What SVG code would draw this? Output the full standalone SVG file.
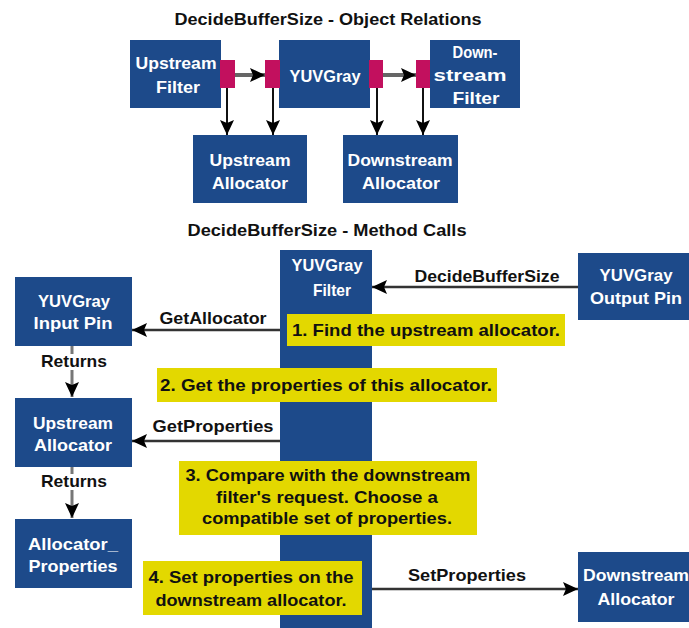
<svg xmlns="http://www.w3.org/2000/svg" width="689" height="628" viewBox="0 0 689 628">
<defs>
<style>
.box{fill:#1d4a8a}
.port{fill:#c2105e}
.note{fill:#e3d800}
.wt{fill:#ffffff;font-family:"Liberation Sans",Arial,sans-serif;font-weight:bold;font-size:17px;text-anchor:middle}
.bt{fill:#111111;font-family:"Liberation Sans",Arial,sans-serif;font-weight:bold;font-size:17px;text-anchor:middle}
.title{fill:#111111;font-family:"Liberation Sans",Arial,sans-serif;font-weight:bold;font-size:16px;text-anchor:middle}
.ln{fill:none;stroke:#333333;stroke-width:2.5}
.ln-g{fill:none;stroke:#666666;stroke-width:4}
.ln-v{fill:none;stroke:#111111;stroke-width:2}
.ln-r{fill:none;stroke:#777777;stroke-width:3}
</style>
<marker id="ah" markerUnits="userSpaceOnUse" markerWidth="16" markerHeight="14" refX="15" refY="7" orient="auto">
<path d="M0,0 L15,7 L0,14 L3,7 z" fill="#000"/>
</marker>
</defs>
<rect width="689" height="628" fill="#ffffff"/>

<!-- Titles -->
<text class="title" x="328" y="25" textLength="307" lengthAdjust="spacingAndGlyphs">DecideBufferSize - Object Relations</text>
<text class="title" x="327" y="236" textLength="279" lengthAdjust="spacingAndGlyphs">DecideBufferSize - Method Calls</text>

<!-- Connectors -->
<g id="connectors">
<line class="ln-g" x1="235" y1="75" x2="265" y2="75" marker-end="url(#ah)"/>
<line class="ln-g" x1="383" y1="75" x2="416" y2="75" marker-end="url(#ah)"/>
<line class="ln-v" x1="227" y1="88" x2="227" y2="135" marker-end="url(#ah)"/>
<line class="ln-v" x1="273" y1="88" x2="273" y2="135" marker-end="url(#ah)"/>
<line class="ln-v" x1="377" y1="88" x2="377" y2="135" marker-end="url(#ah)"/>
<line class="ln-v" x1="423" y1="88" x2="423" y2="135" marker-end="url(#ah)"/>

<line class="ln" x1="578" y1="287" x2="372" y2="287" marker-end="url(#ah)"/>
<line class="ln" x1="287" y1="330" x2="132" y2="330" marker-end="url(#ah)"/>
<line class="ln" x1="280" y1="441" x2="132" y2="441" marker-end="url(#ah)"/>
<line class="ln" x1="362" y1="589" x2="578" y2="589" marker-end="url(#ah)"/>

<line class="ln-r" x1="72" y1="346" x2="72" y2="354"/>
<line class="ln-r" x1="72" y1="370" x2="72" y2="397" marker-end="url(#ah)"/>
<line class="ln-r" x1="72" y1="467" x2="72" y2="474"/>
<line class="ln-r" x1="72" y1="490" x2="72" y2="518" marker-end="url(#ah)"/>

<text class="bt" x="487" y="282" textLength="145" lengthAdjust="spacingAndGlyphs">DecideBufferSize</text>
<text class="bt" x="213" y="324" textLength="107" lengthAdjust="spacingAndGlyphs">GetAllocator</text>
<text class="bt" x="213" y="432" textLength="121" lengthAdjust="spacingAndGlyphs">GetProperties</text>
<text class="bt" x="467" y="581" textLength="118" lengthAdjust="spacingAndGlyphs">SetProperties</text>
<text class="bt" x="74" y="367" textLength="66" lengthAdjust="spacingAndGlyphs">Returns</text>
<text class="bt" x="74" y="487" textLength="66" lengthAdjust="spacingAndGlyphs">Returns</text>
</g>

<!-- Object Relations nodes -->
<g id="upstream-filter">
<rect class="box" x="130" y="40" width="91" height="68"/>
<text class="wt" x="176" y="69" textLength="81" lengthAdjust="spacingAndGlyphs">Upstream</text>
<text class="wt" x="178" y="93" textLength="44" lengthAdjust="spacingAndGlyphs">Filter</text>
</g>
<g id="yuvgray">
<rect class="box" x="279" y="40" width="91" height="68"/>
<text class="wt" x="325" y="82" textLength="71" lengthAdjust="spacingAndGlyphs">YUVGray</text>
</g>
<g id="downstream-filter">
<rect class="box" x="430" y="40" width="90" height="68"/>
<text class="wt" x="475" y="58" textLength="45" lengthAdjust="spacingAndGlyphs">Down-</text>
<text class="wt" x="470" y="81" textLength="73" lengthAdjust="spacingAndGlyphs">stream</text>
<text class="wt" x="476" y="104" textLength="47" lengthAdjust="spacingAndGlyphs">Filter</text>
</g>
<g id="ports">
<rect class="port" x="220" y="60" width="15" height="28"/>
<rect class="port" x="265" y="60" width="15" height="28"/>
<rect class="port" x="369" y="60" width="14" height="28"/>
<rect class="port" x="416" y="60" width="14" height="28"/>
</g>
<g id="upstream-allocator-top">
<rect class="box" x="193" y="135" width="114" height="68"/>
<text class="wt" x="250" y="166" textLength="81" lengthAdjust="spacingAndGlyphs">Upstream</text>
<text class="wt" x="250" y="189" textLength="76" lengthAdjust="spacingAndGlyphs">Allocator</text>
</g>
<g id="downstream-allocator-top">
<rect class="box" x="343" y="135" width="115" height="68"/>
<text class="wt" x="400" y="166" textLength="105" lengthAdjust="spacingAndGlyphs">Downstream</text>
<text class="wt" x="401" y="189" textLength="78" lengthAdjust="spacingAndGlyphs">Allocator</text>
</g>

<!-- Method Calls nodes -->
<g id="yuvgray-filter">
<rect class="box" x="280" y="250" width="92" height="378"/>
<text class="wt" x="327" y="271" textLength="71" lengthAdjust="spacingAndGlyphs">YUVGray</text>
<text class="wt" x="332" y="296" textLength="38" lengthAdjust="spacingAndGlyphs">Filter</text>
</g>
<g id="yuvgray-output-pin">
<rect class="box" x="578" y="253" width="117" height="67"/>
<text class="wt" x="636" y="281" textLength="73" lengthAdjust="spacingAndGlyphs">YUVGray</text>
<text class="wt" x="636" y="304" textLength="92" lengthAdjust="spacingAndGlyphs">Output Pin</text>
</g>
<g id="yuvgray-input-pin">
<rect class="box" x="15" y="277" width="117" height="69"/>
<text class="wt" x="74" y="307" textLength="72" lengthAdjust="spacingAndGlyphs">YUVGray</text>
<text class="wt" x="73" y="329" textLength="79" lengthAdjust="spacingAndGlyphs">Input Pin</text>
</g>
<g id="upstream-allocator">
<rect class="box" x="15" y="398" width="117" height="69"/>
<text class="wt" x="73" y="429" textLength="80" lengthAdjust="spacingAndGlyphs">Upstream</text>
<text class="wt" x="73" y="451" textLength="78" lengthAdjust="spacingAndGlyphs">Allocator</text>
</g>
<g id="allocator-properties">
<rect class="box" x="15" y="519" width="117" height="69"/>
<text class="wt" x="73" y="550" textLength="90" lengthAdjust="spacingAndGlyphs">Allocator_</text>
<text class="wt" x="73" y="572" textLength="89" lengthAdjust="spacingAndGlyphs">Properties</text>
</g>
<g id="downstream-allocator">
<rect class="box" x="578" y="552" width="117" height="70"/>
<text class="wt" x="636" y="581" textLength="106" lengthAdjust="spacingAndGlyphs">Downstream</text>
<text class="wt" x="636" y="605" textLength="77" lengthAdjust="spacingAndGlyphs">Allocator</text>
</g>

<!-- Notes -->
<g id="note-1">
<rect class="note" x="287" y="314" width="278" height="32"/>
<text class="bt" x="426" y="336" textLength="268" lengthAdjust="spacingAndGlyphs">1. Find the upstream allocator.</text>
</g>
<g id="note-2">
<rect class="note" x="157" y="368" width="340" height="34"/>
<text class="bt" x="326" y="391" textLength="332" lengthAdjust="spacingAndGlyphs">2. Get the properties of this allocator.</text>
</g>
<g id="note-3">
<rect class="note" x="179" y="461" width="298" height="74"/>
<text class="bt" x="328" y="481" textLength="285" lengthAdjust="spacingAndGlyphs">3. Compare with the downstream</text>
<text class="bt" x="327" y="503" textLength="222" lengthAdjust="spacingAndGlyphs">filter's request. Choose a</text>
<text class="bt" x="327" y="524" textLength="250" lengthAdjust="spacingAndGlyphs">compatible set of properties.</text>
</g>
<g id="note-4">
<rect class="note" x="143" y="561" width="219" height="54"/>
<text class="bt" x="251" y="583" textLength="205" lengthAdjust="spacingAndGlyphs">4. Set properties on the</text>
<text class="bt" x="251" y="606" textLength="191" lengthAdjust="spacingAndGlyphs">downstream allocator.</text>
</g>
</svg>
